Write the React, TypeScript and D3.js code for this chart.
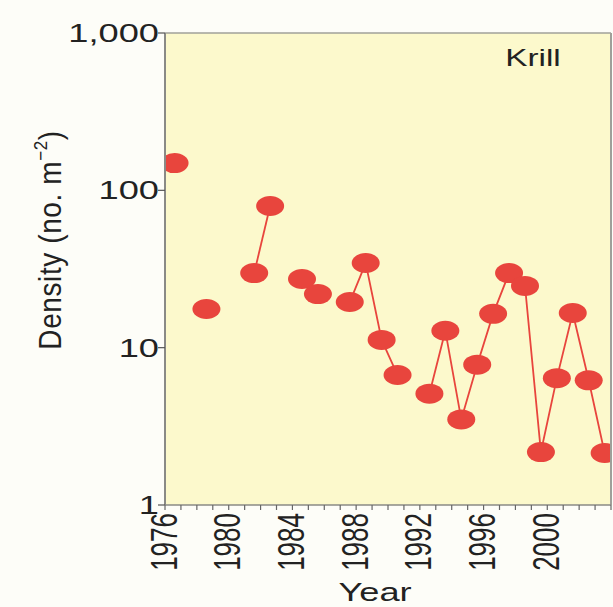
import React from "react";
import * as d3 from "d3";

// season start years (points sit a bit past the year tick)
const years = [1976, 1978, 1981, 1982, 1984, 1985, 1987, 1988, 1989, 1990, 1992, 1993, 1994, 1995, 1996, 1997, 1998, 1999, 2000, 2001, 2002, 2003];
const density = [149, 17.6, 29.8, 79.5, 27.3, 21.9, 19.5, 34.5, 11.2, 6.7, 5.1, 12.8, 3.5, 7.8, 16.4, 29.8, 24.7, 2.17, 6.4, 16.6, 6.2, 2.14];
const yTicks = [1, 10, 100, 1000];
const xTickLabels = [1976, 1980, 1984, 1988, 1992, 1996, 2000];

const W = 613;
const H = 607;
const SX = 1.45; // the source picture is stretched sideways
const RED = "#e8453d";
const FONT = "'Liberation Sans', Arial, sans-serif";

export default function App() {
  const left = 165, right = 611, top = 33, bottom = 505;

  const x = d3.scaleLinear().domain([1976, 2004]).range([left, right]);
  const y = d3.scaleLog().domain([1, 1000]).range([bottom, top]);

  const data = years.map((yr, i) => ({ yr, v: density[i] }));

  // split into runs of consecutive years
  const runs: { yr: number; v: number }[][] = [];
  data.forEach((d, i) => {
    if (i > 0 && d.yr - data[i - 1].yr === 1) runs[runs.length - 1].push(d);
    else runs.push([d]);
  });

  const line = d3
    .line<{ yr: number; v: number }>()
    .x(d => x(d.yr + 0.6))
    .y(d => y(d.v));

  const minorYears = d3.range(1976, 2005);
  const fmt = d3.format(",");

  return (
    <svg width={W} height={H} style={{ position: "absolute", left: 0, top: 0, background: "#fdfdf8" }}>
      <defs>
        <clipPath id="plot-clip">
          <rect x={left} y={top} width={right - left} height={bottom - top} />
        </clipPath>
      </defs>
      <rect x={0} y={0} width={W} height={H} fill="#fdfdf8" />
      <rect x={left} y={top} width={right - left} height={bottom - top} fill="#fcf9cc" />

      {/* data */}
      <g clipPath="url(#plot-clip)">
        {runs.filter(r => r.length > 1).map((r, i) => (
          <path key={i} d={line(r) || ""} fill="none" stroke={RED} strokeWidth={1.8} />
        ))}
        {data.map((d, i) => (
          <ellipse key={i} cx={x(d.yr + 0.6)} cy={y(d.v)} rx={14} ry={10} fill={RED} />
        ))}
      </g>

      {/* frame */}
      <line x1={left} x2={right} y1={top} y2={top} stroke="#a0a09a" strokeWidth={1.5} />
      <line x1={right} x2={right} y1={top} y2={bottom} stroke="#a0a09a" strokeWidth={2} />
      <line x1={left} x2={left} y1={top} y2={bottom} stroke="#8a8a86" strokeWidth={2} />
      <line x1={left} x2={right} y1={bottom} y2={bottom} stroke="#8a8a86" strokeWidth={1.5} />

      {/* y axis */}
      {yTicks.map(t => (
        <g key={t}>
          <line x1={left - 7} x2={left} y1={y(t)} y2={y(t)} stroke="#555" strokeWidth={1.2} />
          <text
            transform={`translate(${left - 6},${y(t)}) scale(${SX},1)`}
            textAnchor="end"
            dy="0.36em"
            fontFamily={FONT}
            fontSize={25}
            fill="#222"
          >
            {fmt(t)}
          </text>
        </g>
      ))}

      {/* x axis */}
      {minorYears.map(t => (
        <line key={t} x1={x(t)} x2={x(t)} y1={bottom} y2={bottom + 5} stroke="#666" strokeWidth={1.2} />
      ))}
      {xTickLabels.map(t => (
        <text
          key={t}
          transform={`translate(${x(t) - 2},${bottom + 8}) scale(${SX},1) rotate(-90)`}
          textAnchor="end"
          dy="0.36em"
          fontFamily={FONT}
          fontSize={26}
          fill="#222"
        >
          {t}
        </text>
      ))}

      <text
        transform={`translate(375,601) scale(${SX},1)`}
        textAnchor="middle"
        fontFamily={FONT}
        fontSize={25}
        fill="#222"
      >
        Year
      </text>

      <text
        transform={`translate(50,240) scale(1.1,1) rotate(-90)`}
        textAnchor="middle"
        dy="0.36em"
        fontFamily={FONT}
        fontSize={28}
        letterSpacing={0.6}
        fill="#222"
      >
        Density (no. m
        <tspan fontSize={17} dy="-0.75em">−2</tspan>
        <tspan dy="0.45em">)</tspan>
      </text>

      <text
        transform={`translate(533,66) scale(${SX},1)`}
        textAnchor="middle"
        fontFamily={FONT}
        fontSize={23}
        fontWeight={500}
        fill="#222"
      >
        Krill
      </text>
    </svg>
  );
}
